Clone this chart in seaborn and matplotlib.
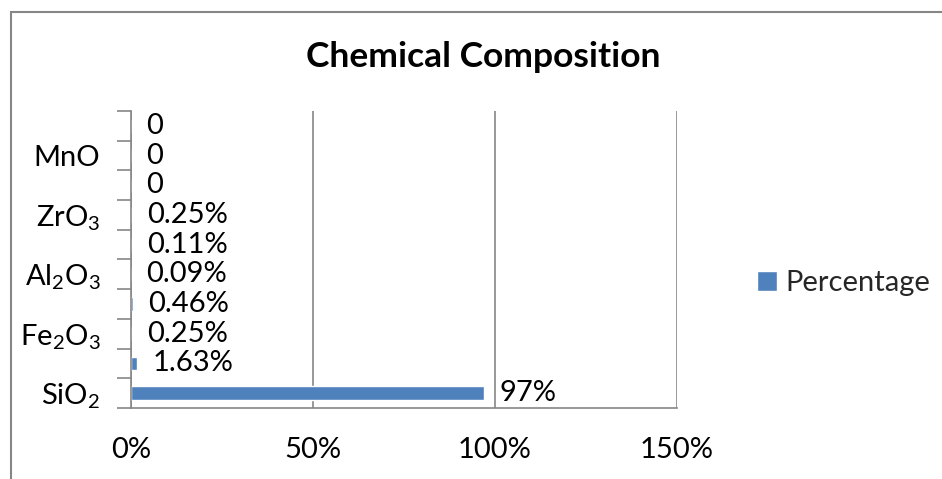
import matplotlib
matplotlib.use("Agg")
import matplotlib.pyplot as plt
from matplotlib.patches import Rectangle
from matplotlib.ticker import FixedLocator, PercentFormatter
import seaborn as sns
import pandas as pd

# Oxide composition (percent by weight), bottom row first
oxides = ["SiO$_\\mathregular{2}$", "CaO", "Fe$_\\mathregular{2}$O$_\\mathregular{3}$", "TiO$_\\mathregular{2}$",
          "Al$_\\mathregular{2}$O$_\\mathregular{3}$", "MgO", "ZrO$_\\mathregular{3}$", "K$_\\mathregular{2}$O",
          "MnO", "Na$_\\mathregular{2}$O"]
percent = [97, 1.63, 0.25, 0.46, 0.09, 0.11, 0.25, 0, 0, 0]
value_labels = ["97%", "1.63%", "0.25%", "0.46%", "0.09%", "0.11%", "0.25%", "0", "0", "0"]
x_ticks = [0, 50, 100, 150]
series_name = "Percentage"

sns.set_theme(style="white")
plt.rcParams["font.family"] = ["Lato", "Noto Sans", "DejaVu Sans"]
plt.rcParams["mathtext.fontset"] = "custom"
plt.rcParams["mathtext.rm"] = "Lato"
plt.rcParams["mathtext.it"] = "Lato:italic"
plt.rcParams["mathtext.bf"] = "Lato:bold"

BAR = "#4F81BD"
GRID = "#868686"
FS = 21

df = pd.DataFrame({"oxide": oxides, "pct": percent})

fig = plt.figure(figsize=(9.42, 4.79), dpi=100)
ax = fig.add_axes([131 / 942, 1 - 408 / 479, (677 - 131) / 942, (408 - 111) / 479])

sns.barplot(data=df, x="pct", y="oxide", orient="h", color=BAR, saturation=1,
            width=0.45, label=series_name, ax=ax, order=oxides)
ax.invert_yaxis()
ax.set_ylim(-0.5, len(oxides) - 0.5)
ax.set_xlim(0, 150)

# value labels beside each bar
for i, (v, t) in enumerate(zip(percent, value_labels)):
    ax.annotate(t, (v, i), xytext=(11, 0), textcoords="offset points",
                va="center", ha="left", fontsize=FS, color="black")

# x axis
ax.xaxis.set_major_locator(FixedLocator(x_ticks))
ax.xaxis.set_major_formatter(PercentFormatter(decimals=0))
ax.tick_params(axis="x", which="major", length=8, width=1.2, color=GRID,
               direction="out", pad=13, labelsize=FS, labelcolor="black")
ax.grid(axis="x", color=GRID, linewidth=1.2)
ax.set_axisbelow(True)

# y axis: labels on every other category, tick marks on category boundaries
ax.yaxis.set_major_locator(FixedLocator(list(range(len(oxides)))))
ax.set_yticklabels([o if i % 2 == 0 else "" for i, o in enumerate(oxides)])
ax.yaxis.set_minor_locator(FixedLocator([k - 0.5 for k in range(len(oxides) + 1)]))
ax.tick_params(axis="y", which="major", length=0, pad=22, labelsize=FS, labelcolor="black")
ax.tick_params(axis="y", which="minor", length=10, width=1.2, color=GRID, direction="out", left=True)
ax.set_xlabel("")
ax.set_ylabel("")

for side in ("top", "right"):
    ax.spines[side].set_visible(False)
for side in ("left", "bottom"):
    ax.spines[side].set_color(GRID)
    ax.spines[side].set_linewidth(1.2)

if ax.get_legend() is not None:
    ax.get_legend().remove()
handles, labels = ax.get_legend_handles_labels()
fig.legend(handles, labels, loc="center left", bbox_to_anchor=(745 / 942, 1 - 283 / 479),
           frameon=False, fontsize=FS, handlelength=0.7, handleheight=0.7,
           handletextpad=0.3, borderaxespad=0)

fig.text(483 / 942, 1 - 57 / 479, "Chemical Composition", ha="center", va="center",
         fontsize=25.5, fontweight="bold", color="black")

# outer chart frame
fig.patches.append(Rectangle((11 / 942, -0.2), 1.2, 1.2 - 11.5 / 479,
                             transform=fig.transFigure, fill=False,
                             edgecolor=GRID, linewidth=1.5))

fig.savefig("out.png", dpi=100)
